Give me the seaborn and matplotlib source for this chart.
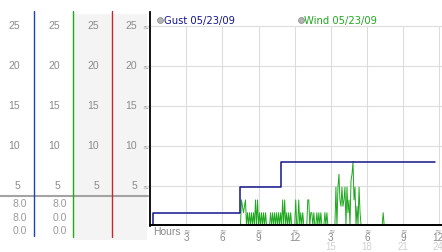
import numpy as np
import pandas as pd
import matplotlib
matplotlib.use("Agg")
import matplotlib.pyplot as plt
import matplotlib.transforms as mtransforms
import seaborn as sns

# ---------------- data ----------------
gust_hours = [0.0, 0.25, 7.5, 10.9, 23.65]
gust_mph = [0.0, 1.6, 4.8, 8.0, 8.0]

# wind readings every 5 minutes during the active period starting at 07:30
wind_start_hour = 7.5
wind_active = [
    0, 3.2, 2.4, 1.6, 2.4, 3.2, 0, 1.6, 0, 1.6,
    0, 1.6, 0, 1.6, 0, 3.2, 0, 3.2, 0, 1.6,
    0, 1.6, 0, 1.6, 0, 1.6, 0, 0, 0, 0,
    1.6, 0, 1.6, 0, 1.6, 0, 1.6, 0, 1.6, 0,
    1.6, 0, 3.2, 0, 3.2, 0, 1.6, 0, 1.6, 0,
    1.6, 0, 0, 0, 0, 3.2, 0, 0, 3.2, 0,
    1.6, 0, 1.6, 0, 0, 0, 0, 3.2, 3.2, 0,
    1.6, 1.6, 0, 1.6, 0, 0, 1.6, 0, 1.6, 0,
    1.6, 0, 0, 0, 1.6, 0, 1.6, 0, 0, 0,
    0, 0, 0, 0, 0, 4.8, 0, 4.8, 6.4, 3.2,
    2.4, 4.8, 2.4, 3.2, 4.8, 0, 4.8, 1.6, 3.2, 0,
    5.6, 6.4, 8.0, 3.2, 4.8, 0, 2.4, 0, 4.8, 1.6,
    0, 0, 0, 0, 0, 0, 0, 0, 0, 0,
    0, 0, 0, 0, 0, 0, 0, 0, 0, 0,
    0, 0, 1.6, 0,
]
wind_first_hour, wind_last_hour = 0.1, 23.65

y_ticks = [5, 10, 15, 20, 25]
x_ticks = [3, 6, 9, 12, 15, 18, 21, 24]
x_labels = ["3", "6", "9", "12", "3", "6", "9", "12"]
x_ticks2 = [15, 18, 21, 24]
x_labels2 = ["15", "18", "21", "24"]
gust_stats = ["8.0", "8.0", "0.0"]
wind_stats = ["8.0", "0.0", "0.0"]
gust_label = "Gust 05/23/09"
wind_label = "Wind 05/23/09"

# ---------------- frames ----------------
wind_hours = [wind_first_hour] + [wind_start_hour + k / 12 for k in range(len(wind_active))] + [wind_last_hour]
wind_vals = [0.0] + list(wind_active) + [0.0]
gust_df = pd.DataFrame({"hour": gust_hours, "mph": gust_mph})
wind_df = pd.DataFrame({"hour": wind_hours, "mph": wind_vals})

sns.set_style("white")
plt.rcParams["font.family"] = ["DejaVu Sans"]

GUST_C = "#15158c"
WIND_C = "#1fa81f"
TICK_C = "#8a8a8a"
TICK_FONT = "Liberation Sans"

W, H = 442, 253
fig = plt.figure(figsize=(W / 100, H / 100), dpi=100)
fig.patch.set_facecolor("white")

ax_px = fig.add_axes([0, 0, 1, 1])
ax_px.set_xlim(0, W)
ax_px.set_ylim(H, 0)
ax_px.axis("off")

# main axes: x=0h at px 150, 12.06 px/hour; y=0 at px 226.5, 8 px/unit
left_px, zero_px, top_px = 150, 226.5, 13
ax = fig.add_axes([left_px / W, (H - zero_px) / H, (W - left_px) / W, (zero_px - top_px) / H])
ax.set_facecolor("none")
ax.set_xlim(0, (W - left_px) / 12.06)
ax.set_ylim(0, (zero_px - top_px) / 8.0)

# grid
ax.vlines(x_ticks, 0, max(y_ticks), color="#dcdcdc", lw=0.8, zorder=0)
ax.hlines(y_ticks, 0, ax.get_xlim()[1], color="#dcdcdc", lw=0.8, zorder=0)

sns.lineplot(data=wind_df, x="hour", y="mph", ax=ax, color=WIND_C, lw=0.7,
             zorder=2, clip_on=False, estimator=None)
sns.lineplot(data=gust_df, x="hour", y="mph", ax=ax, color=GUST_C, lw=1.1,
             drawstyle="steps-post", zorder=3, estimator=None)

ax.set_xlabel("")
ax.set_ylabel("")
ax.set_xticks([])
ax.set_yticks([])
for s in ["top", "right"]:
    ax.spines[s].set_visible(False)
ax.spines["left"].set_color("black")
ax.spines["left"].set_linewidth(1.3)
ax.spines["bottom"].set_color("black")
ax.spines["bottom"].set_linewidth(1.4)
ax.spines["bottom"].set_position(("data", 0.12))
ax.spines["bottom"].set_zorder(4)

# x tick labels (x in data, y in pixels)
tx = mtransforms.blended_transform_factory(ax.transData, ax_px.transData)
shift_left = mtransforms.ScaledTranslation(-2 / 100, 0, fig.dpi_scale_trans)
for xv, lab in zip(x_ticks, x_labels):
    tr = tx + shift_left if xv == x_ticks[-1] else tx
    ax_px.text(xv, 230.5, "≈", transform=tr, ha="center", va="center",
               fontsize=5.5, color="#9a9a9a")
    ax_px.text(xv, 238.5, lab, transform=tr, ha="center", va="center",
               fontsize=7.2, color=TICK_C, family=TICK_FONT)
for xv, lab in zip(x_ticks2, x_labels2):
    tr = tx + shift_left if xv == x_ticks2[-1] else tx
    ax_px.text(xv, 247.5, lab, transform=tr, ha="center", va="center",
               fontsize=7.0, color="#d0d0d0", family=TICK_FONT)
ax_px.text(153, 232, "Hours", ha="left", va="center", fontsize=7.5,
           color=TICK_C, family=TICK_FONT)

# legend
for cx, lab, col in [(160, gust_label, GUST_C), (301, wind_label, WIND_C)]:
    ax_px.plot([cx], [20.5], "o", ms=4.2, mfc="#b4b4b4", mec="#8c8c8c", mew=0.6)
    ax_px.text(cx + 3.5, 20.8, lab, ha="left", va="center", fontsize=7.2, color=col)

# left panel
ax_px.add_patch(plt.Rectangle((73, 15), 74, 226, color="#f4f4f4", lw=0, zorder=0))
for xv, col, y1 in [(33.5, "#1f45b0", 237), (72.5, "#22a822", 238), (111.5, "#c02a2a", 238)]:
    ax_px.plot([xv, xv], [12, y1], color=col, lw=1.0, zorder=2, snap=True)
ax_px.plot([0, 148], [196.8, 196.8], color="#a3a3a3", lw=1.5, zorder=1)

ty = mtransforms.blended_transform_factory(ax_px.transData, ax.transData)
for colx in [20, 60, 99, 137]:
    for yv in y_ticks:
        ax_px.text(colx, yv, str(yv), transform=ty, ha="right", va="center",
                   fontsize=7.5, color=TICK_C, family=TICK_FONT)
for yv in y_ticks:
    ax_px.text(145.5, yv, "≈", transform=ty, ha="center", va="center",
               fontsize=5.5, color="#9a9a9a")

for colx, stats in [(27, gust_stats), (67, wind_stats)]:
    for yy, s in zip([204.5, 218, 231.5], stats):
        ax_px.text(colx, yy, s, ha="right", va="center", fontsize=7.5,
                   color="#9a9a9a", family=TICK_FONT)

fig.savefig("out.png", dpi=100)
